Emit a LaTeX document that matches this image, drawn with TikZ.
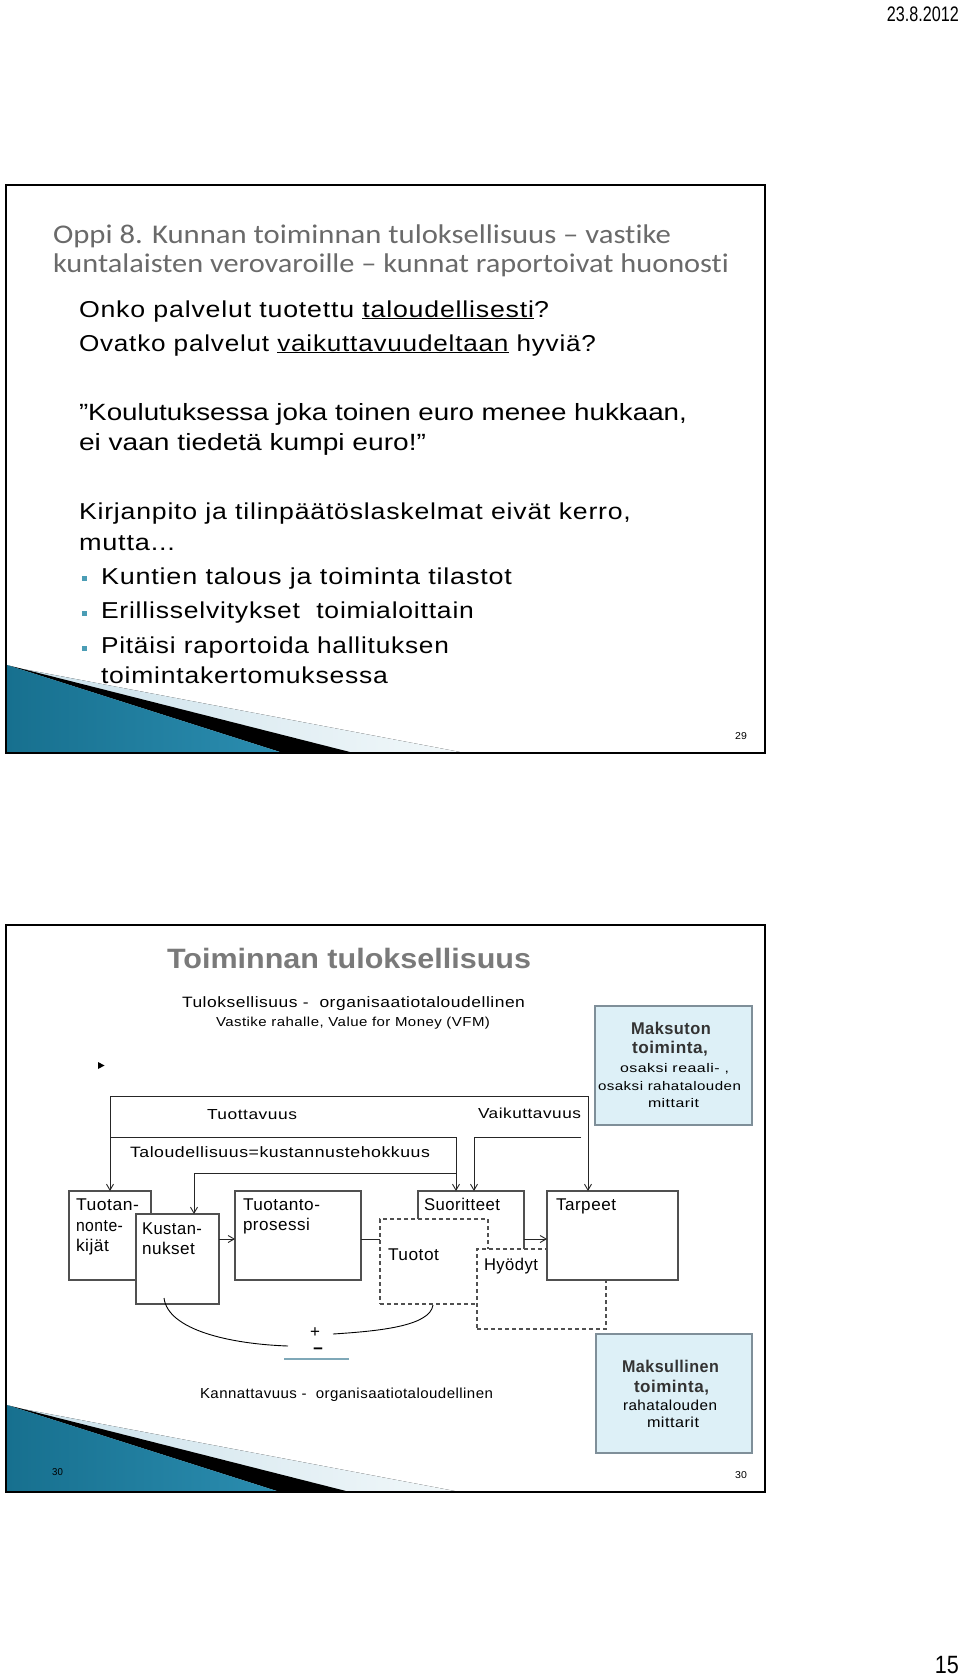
\documentclass[tikz,border=0pt]{standalone}
\usepackage{fontspec}
\usepackage{graphicx}
\usetikzlibrary{arrows.meta}
\setmainfont{Liberation Sans}
\newfontfamily\spf[LetterSpace=3]{Liberation Sans}
\newfontfamily\plainf{Liberation Sans}
\newfontfamily\ttlf[Ligatures={NoCommon,NoRequired,NoContextual}]{Carlito}
\definecolor{ttlgray}{HTML}{6A6A6A}
\definecolor{s2gray}{HTML}{7A7A7A}
\definecolor{boxline}{HTML}{505050}
\definecolor{cyanfill}{HTML}{DDF0F7}
\definecolor{cyanline}{HTML}{7F8F99}
\definecolor{bulletc}{HTML}{4B9DB5}
\definecolor{pmline}{HTML}{7FA8B8}
\definecolor{swdark}{HTML}{17708F}
\definecolor{swmid}{HTML}{4DB4D6}
\definecolor{swtip}{HTML}{2B8DB0}
\definecolor{swlight}{HTML}{C9E0EA}
\definecolor{swlight2}{HTML}{F2F8FA}
\definecolor{mtext}{HTML}{333333}
\newsavebox\fitbox
\newdimen\fitdim
\newcommand\fitw[2]{\sbox\fitbox{#2}\fitdim=\wd\fitbox\pgfmathsetmacro\fwr{#1/\fitdim}\scalebox{\fwr}[1]{\usebox\fitbox}}
\tikzset{
  t/.style={inner sep=0pt, outer sep=0pt, anchor=base west},
  body/.style={font={\spf\fontsize{23}{26}\selectfont}},
  quot/.style={font={\plainf\fontsize{23.5}{26}\selectfont}},
  ttl/.style={font={\ttlf\fontsize{27}{30}\selectfont}, text=ttlgray},
  small/.style={font={\spf\fontsize{10}{12}\selectfont}},
  lbl/.style={font={\spf\fontsize{17}{20}\selectfont}},
  lbls/.style={font={\spf\fontsize{14.5}{17}\selectfont}},
  bx/.style={draw=boxline, line width=1.1pt, fill=white, inner sep=0pt, outer sep=0pt, anchor=north west},
  dbx/.style={bx, dash pattern=on 4pt off 3pt},
  cbx/.style={draw=cyanline, line width=1.2pt, fill=cyanfill, inner sep=0pt, outer sep=0pt, anchor=north west},
  ln/.style={line width=1pt, draw=black!85},
  arr/.style={ln, -{Straight Barb[length=6pt,width=7pt,line width=0.9pt]}},
  frame/.style={draw=black, line width=2.5pt},
}
\newcommand\swoosh[1]{%
  \fill[left color=swlight, right color=swlight2] (7,#1-86) -- (460,#1) -- (7,#1) -- cycle;
  \fill[black] (7,#1-87) -- (350,#1) -- (280,#1) -- cycle;
  \shade[left color=swdark, middle color=swmid, right color=swtip] (7,#1-87) -- (280,#1) -- (7,#1) -- cycle;
}
\begin{document}
\begin{tikzpicture}[x=1pt,y=-1pt]
\useasboundingbox[fill=white] (0,0) rectangle (960,1676);

% header / footer
\node[inner sep=0pt, anchor=base east, font={\plainf\fontsize{21}{24}\selectfont}] (date) at (959,21) {\fitw{72}{23.8.2012}};
\node[inner sep=0pt, anchor=base east, font={\plainf\fontsize{25}{28}\selectfont}] (pageno) at (959,1673) {\fitw{24}{15}};

% ---------------- slide 1 ----------------
\swoosh{752}
\draw[frame] (6,185) rectangle (765,753);
\node[t, ttl] (s1t1) at (53,243) {\fitw{618}{Oppi 8. Kunnan toiminnan tuloksellisuus – vastike}};
\node[t, ttl] (s1t2) at (53,272) {\fitw{676}{kuntalaisten verovaroille – kunnat raportoivat huonosti}};
\node[t, body] (s1b1) at (79,317) {\fitw{470}{Onko palvelut tuotettu \underline{taloudellisesti}?}};
\node[t, body] (s1b2) at (79,351) {\fitw{517}{Ovatko palvelut \underline{vaikuttavuudeltaan} hyviä?}};
\node[t, quot] (s1q1) at (79,420) {\fitw{608}{”Koulutuksessa joka toinen euro menee hukkaan,}};
\node[t, quot] (s1q2) at (79,450) {\fitw{347}{ei vaan tiedetä kumpi euro!”}};
\node[t, body] (s1k1) at (79,519) {\fitw{552}{Kirjanpito ja tilinpäätöslaskelmat eivät kerro,}};
\node[t, body] (s1k2) at (79,550) {\fitw{96}{mutta...}};
\fill[bulletc] (81.5,575.5) rectangle (86.5,580.5);
\fill[bulletc] (81.5,610.5) rectangle (86.5,615.5);
\fill[bulletc] (81.5,645.5) rectangle (86.5,650.5);
\node[t, body] (s1l1) at (101,584) {\fitw{411}{Kuntien talous ja toiminta tilastot}};
\node[t, body] (s1l2) at (101,618) {\fitw{373}{Erillisselvitykset\ \ toimialoittain}};
\node[t, body] (s1l3) at (101,653) {\fitw{348}{Pitäisi raportoida hallituksen}};
\node[t, body] (s1l4) at (101,683) {\fitw{287}{toimintakertomuksessa}};
\node[t, small] (s1n) at (735,739) {\fitw{12}{29}};

% ---------------- slide 2 ----------------
\swoosh{1492}
\draw[frame] (6,925) rectangle (765,1492);
\node[t, font={\plainf\bfseries\fontsize{28}{32}\selectfont}, text=s2gray] (s2t) at (167,968) {\fitw{364}{Toiminnan tuloksellisuus}};
\node[t, font={\spf\fontsize{15}{18}\selectfont}] (s2a) at (182,1007) {\fitw{343}{Tuloksellisuus -\ \ organisaatiotaloudellinen}};
\node[t, font={\spf\fontsize{13}{16}\selectfont}] (s2b) at (216,1026) {\fitw{274}{Vastike rahalle, Value for Money (VFM)}};
\fill[black] (98,1062) -- (104.5,1065.5) -- (98,1069) -- cycle;

% Maksuton box
\node[cbx, minimum width=157pt, minimum height=119pt] (mk1) at (595,1006) {};
\node[t, font={\spf\bfseries\fontsize{17}{20}\selectfont}, text=mtext] (mk1a) at (631,1034) {\fitw{80}{Maksuton}};
\node[t, font={\spf\bfseries\fontsize{17}{20}\selectfont}, text=mtext] (mk1b) at (632,1053) {\fitw{76}{toiminta,}};
\node[t, font={\spf\fontsize{12.5}{15}\selectfont}] (mk1c) at (620,1072) {\fitw{109}{osaksi reaali- ,}};
\node[t, font={\spf\fontsize{12.5}{15}\selectfont}] (mk1d) at (598,1090) {\fitw{143}{osaksi rahatalouden}};
\node[t, font={\spf\fontsize{12.5}{15}\selectfont}] (mk1e) at (648,1107) {\fitw{51}{mittarit}};

% bracket labels
\node[t, lbls] (tuot) at (207,1119) {\fitw{90}{Tuottavuus}};
\node[t, lbls] (vaik) at (478,1118) {\fitw{103}{Vaikuttavuus}};
\node[t, font={\spf\fontsize{15}{18}\selectfont}] (talo) at (130,1157) {\fitw{300}{Taloudellisuus=kustannustehokkuus}};

% boxes
\node[bx, minimum width=82pt, minimum height=89pt] (tn) at (69,1191) {};
\node[bx, minimum width=83pt, minimum height=90pt] (ku) at (136,1214) {};
\node[bx, minimum width=126pt, minimum height=89pt] (tp) at (235,1191) {};
\node[bx, minimum width=106pt, minimum height=89pt] (su) at (418,1191) {};
\node[dbx, minimum width=108pt, minimum height=85pt] (tt) at (380,1219) {};
\node[dbx, minimum width=129pt, minimum height=80pt] (hy) at (477,1249) {};
\node[bx, minimum width=131pt, minimum height=89pt] (ta) at (547,1191) {};

% box labels
\node[t, lbl] (tn1) at (76,1210) {\fitw{63}{Tuotan-}};
\node[t, lbl] (tn2) at (76,1231) {\fitw{47}{nonte-}};
\node[t, lbl] (tn3) at (76,1251) {\fitw{33}{kijät}};
\node[t, lbl] (ku1) at (142,1234) {\fitw{60}{Kustan-}};
\node[t, lbl] (ku2) at (142,1254) {\fitw{53}{nukset}};
\node[t, lbl] (tp1) at (243,1210) {\fitw{77}{Tuotanto-}};
\node[t, lbl] (tp2) at (243,1230) {\fitw{67}{prosessi}};
\node[t, lbl] (su1) at (424,1210) {\fitw{76}{Suoritteet}};
\node[t, lbl] (tt1) at (388,1260) {\fitw{51}{Tuotot}};
\node[t, lbl] (hy1) at (484,1270) {\fitw{54}{Hyödyt}};
\node[t, lbl] (ta1) at (556,1210) {\fitw{60}{Tarpeet}};

% connectors
\coordinate (b1) at (110,1096);
\coordinate (b2) at (588,1096);
\coordinate (c1) at (110,1137);
\coordinate (c2) at (456,1137);
\coordinate (d2) at (194,1173);
\coordinate (d1) at (456,1173);
\coordinate (v1) at (581,1137);
\coordinate (v2) at (474,1137);
\coordinate (h) at (0,1239);
\draw[ln] (b1) -- (b2);
\draw[arr] (b1) -- (tn.north);
\draw[arr] (b2) -- (b2 |- ta.north);
\draw[ln] (c1) -- (c2);
\draw[arr] (c2) -- (c2 |- su.north);
\draw[arr] (d1) -- (d2) -- (d2 |- ku.north);
\draw[arr] (v1) -- (v2) -- (v2 |- su.north);
\draw[arr] (ku.east |- h) -- (tp.west |- h);
\draw[ln] (tp.east |- h) -- (tt.west |- h);
\draw[arr] (su.east |- h) -- (ta.west |- h);

% profitability
\node[inner sep=0pt, font={\plainf\fontsize{17}{20}\selectfont}] (plus) at (315,1333) {+};
\node[inner sep=0pt, font={\plainf\bfseries\fontsize{17}{20}\selectfont}] (minus) at (318,1351) {−};
\coordinate (k1) at (164,1298);
\coordinate (k2) at (288,1346);
\coordinate (k3) at (433,1305);
\coordinate (k4) at (333,1334);
\coordinate (p1) at (284,1359);
\coordinate (p2) at (349,1359);
\draw[line width=0.9pt] (k1) .. controls (168,1330) and (230,1344) .. (k2);
\draw[line width=0.9pt] (k3) .. controls (430,1326) and (380,1331) .. (k4);
\draw[pmline, line width=1.6pt] (p1) -- (p2);
\node[t, lbls] (kann) at (200,1398) {\fitw{293}{Kannattavuus -\ \ organisaatiotaloudellinen}};

% Maksullinen box
\node[cbx, minimum width=156pt, minimum height=119pt] (mk2) at (596,1334) {};
\node[t, font={\spf\bfseries\fontsize{17}{20}\selectfont}, text=mtext] (mk2a) at (622,1372) {\fitw{97}{Maksullinen}};
\node[t, font={\spf\bfseries\fontsize{17}{20}\selectfont}, text=mtext] (mk2b) at (634,1392) {\fitw{75}{toiminta,}};
\node[t, lbls] (mk2c) at (623,1410) {\fitw{94}{rahatalouden}};
\node[t, lbls] (mk2d) at (647,1427) {\fitw{52}{mittarit}};

\node[t, small] (s2n1) at (52,1475) {\fitw{11}{30}};
\node[t, small] (s2n2) at (735,1478) {\fitw{12}{30}};
\end{tikzpicture}
\end{document}
